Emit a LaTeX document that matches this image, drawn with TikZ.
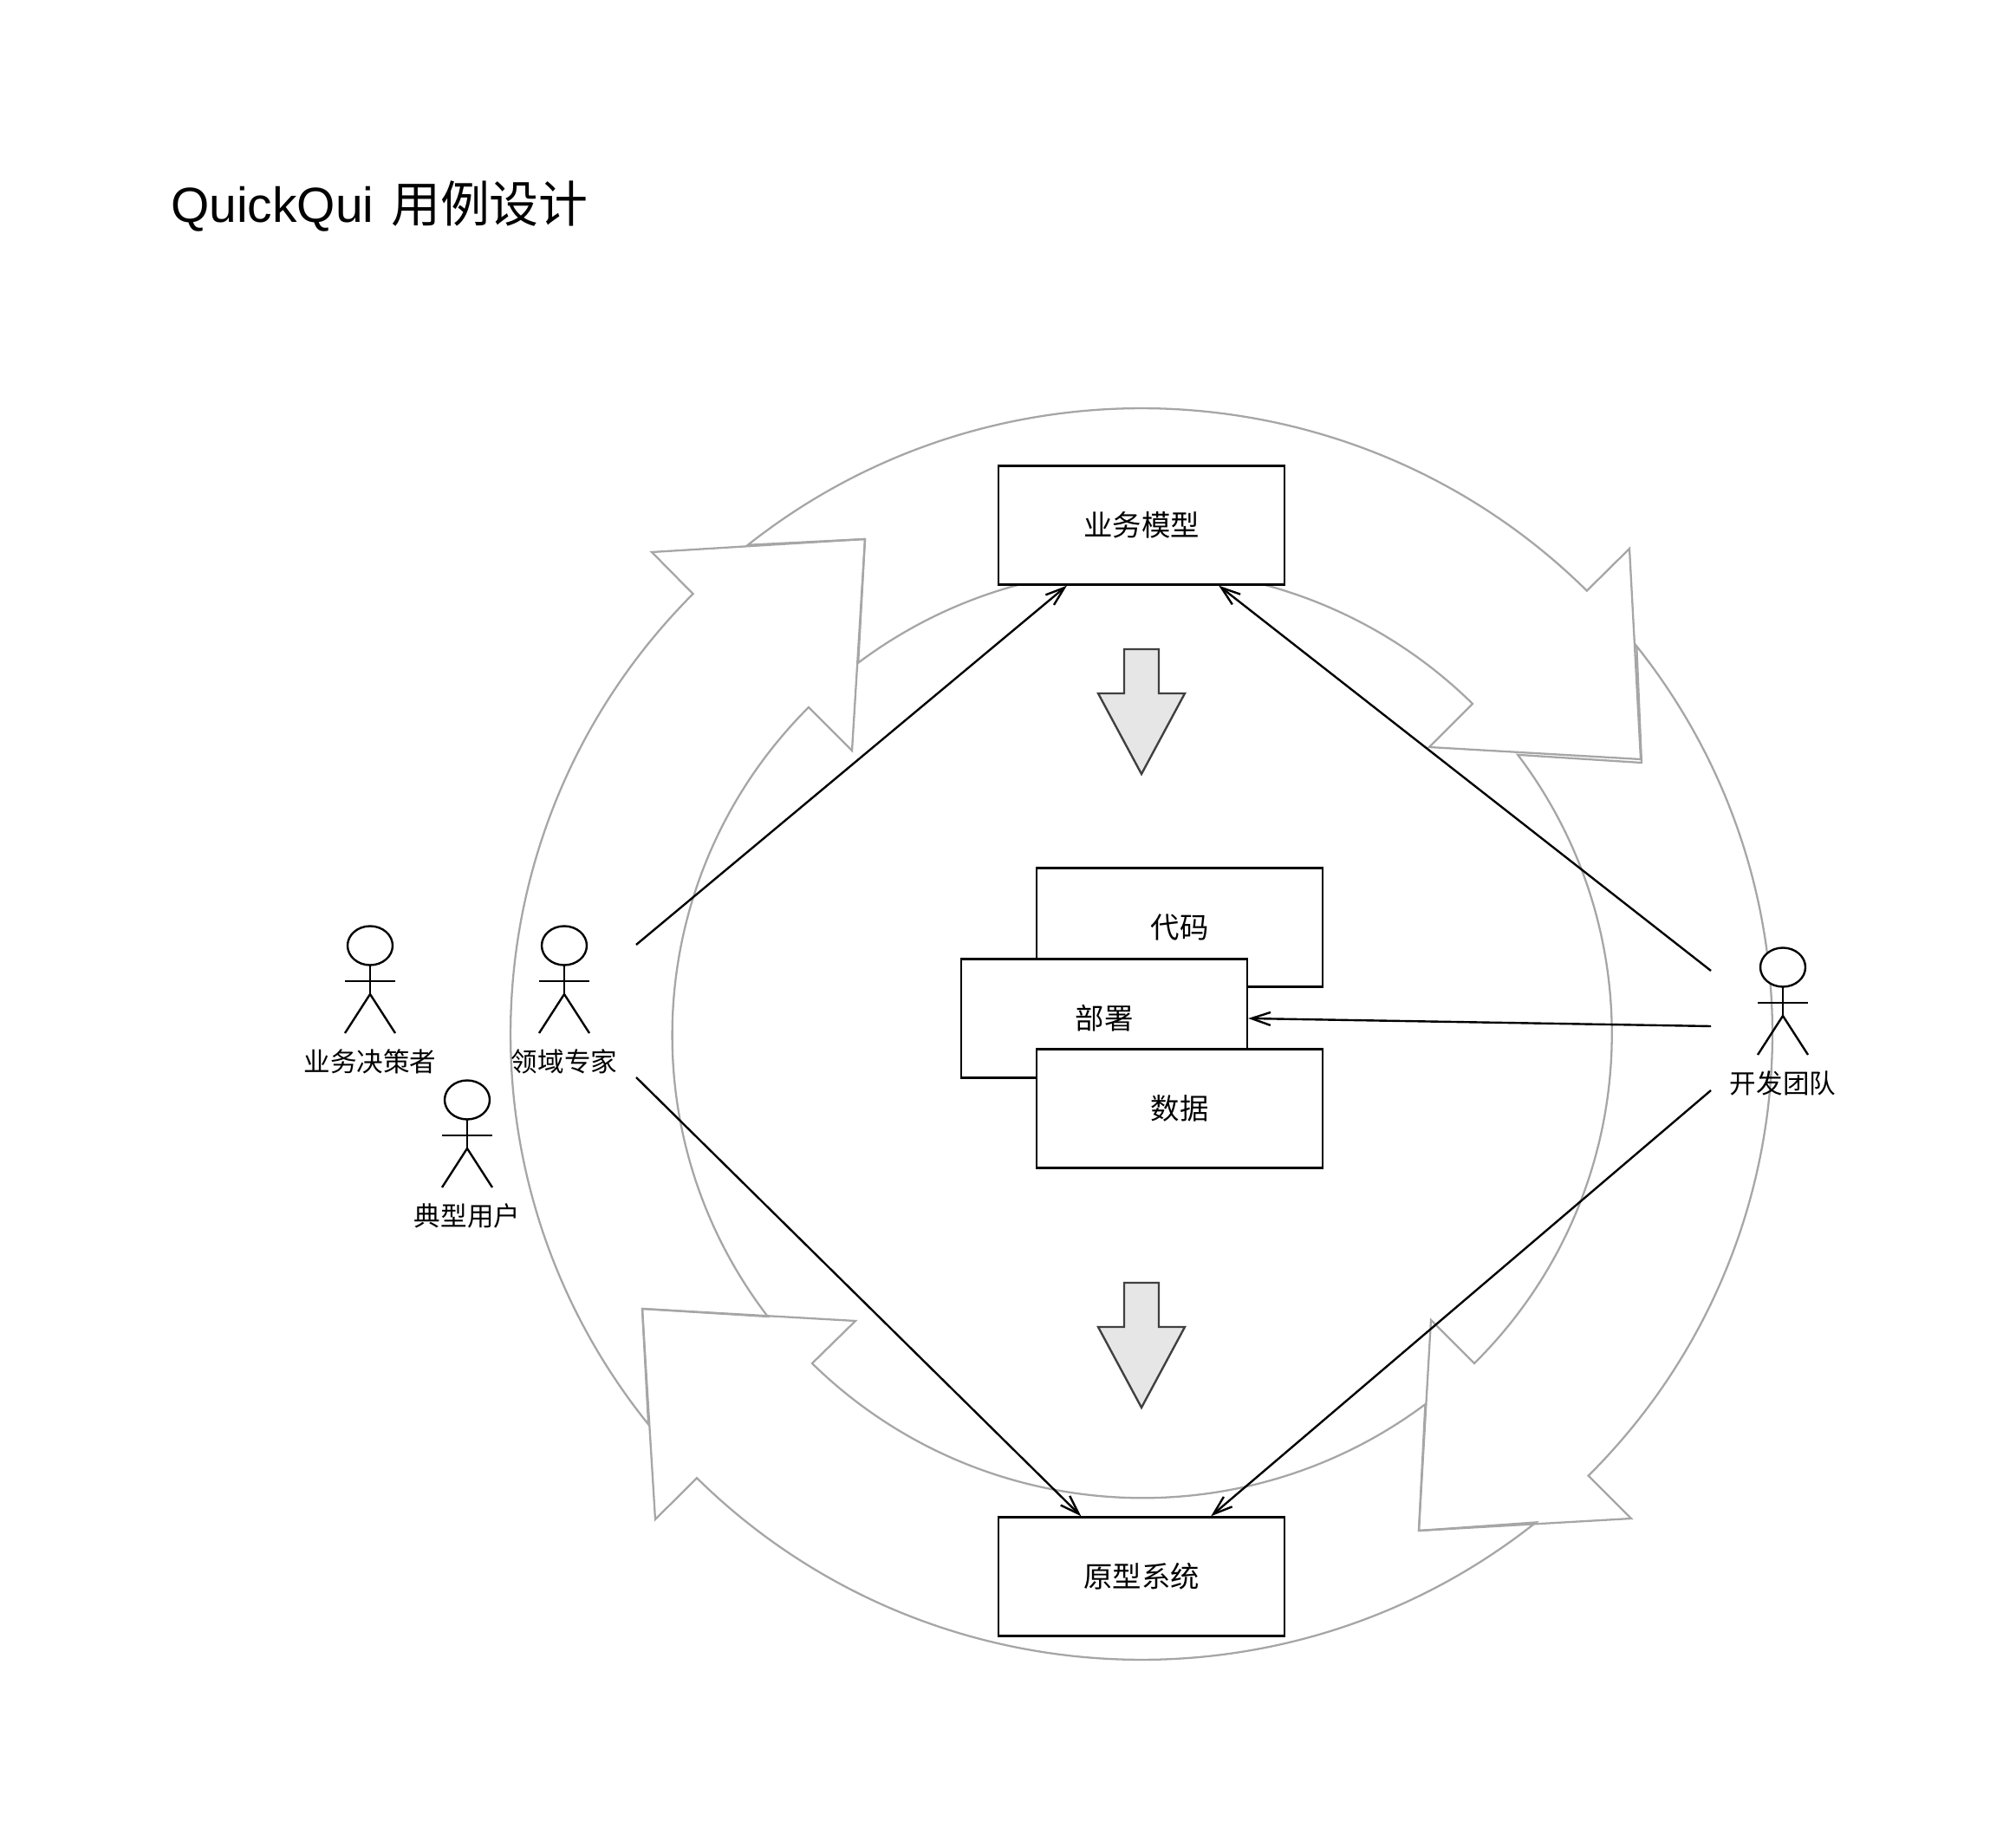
\documentclass[tikz,border=0pt]{standalone}
\usepackage{fontspec}
\setmainfont{Noto Sans CJK SC}
\newfontfamily\latinfont{Liberation Sans}
\usepackage{xcolor}
\usepackage{tikz}
\usetikzlibrary{arrows.meta}
\usetikzlibrary{calc}
\pgfdeclarelayer{edgelayer}
\pgfdeclarelayer{nodelayer}
\pgfsetlayers{edgelayer,nodelayer,main}
\definecolor{ringgray}{HTML}{A6A6A6}
\definecolor{blockgray}{HTML}{E6E6E6}
\definecolor{blockline}{HTML}{404040}
\tikzstyle{none}=[inner sep=0mm]
\tikzstyle{box}=[shape=rectangle,draw=black,fill=white,line width=0.68pt,inner sep=0pt,minimum width=3.3cm,minimum height=1.37cm,text height=7.6pt,text depth=0.4pt,font=\fontsize{9.5pt}{11pt}\selectfont]
\tikzstyle{ring arrow}=[draw=ringgray,line width=0.65pt]
\tikzstyle{block arrow}=[draw=blockline,fill=blockgray,line width=0.68pt]
\tikzstyle{diredge}=[draw=black,line width=0.68pt,-{Straight Barb[length=2.2mm,width=1.5mm]}]
\tikzstyle{title}=[none,font=\fontsize{16.2pt}{19pt}\selectfont]
\tikzstyle{actor label}=[none,text height=7pt,text depth=0.36pt,font=\fontsize{8.7pt}{10pt}\selectfont]
\tikzset{
	actor/.pic={
		\draw [line width=0.68pt,fill=white] (0, 0) ellipse (0.26 and 0.225);
		\draw [line width=0.68pt] (0, -0.225) -- (0, -0.56);
		\draw [line width=0.68pt] (-0.29, -0.41) -- (0.29, -0.41);
		\draw [line width=0.68pt] (-0.29, -1.01) -- (0, -0.56) -- (0.29, -1.01);
		\node [style=actor label] (-label) at (0, -1.34) {#1};
	}
}

\begin{document}
\begin{tikzpicture}
	\useasboundingbox (0, 0) rectangle (23.26, 21);
	\begin{pgfonlayer}{nodelayer}
		\node [style=title, anchor=base west] (heading) at (1.965, 18.43) {{\latinfont QuickQui}\hspace{0.07cm} 用例设计};
		\node [style=box] (model) at (13.17, 14.94) {业务模型};
		\node [style=box] (system) at (13.17, 2.81) {原型系统};
		\node [style=box] (code) at (13.61, 10.30) {代码};
		\node [style=box] (deploy) at (12.74, 9.25) {部署};
		\node [style=box] (data) at (13.61, 8.21) {数据};
		\draw [style=block arrow] (12.97, 13.51) -- (13.37, 13.51) -- (13.37, 13.00) -- (13.67, 13.00) -- (13.17, 12.07) -- (12.67, 13.00) -- (12.97, 13.00) -- cycle;
		\draw [style=block arrow] (12.97, 6.20) -- (13.37, 6.20) -- (13.37, 5.69) -- (13.67, 5.69) -- (13.17, 4.76) -- (12.67, 5.69) -- (12.97, 5.69) -- cycle;
		\pic (decider) at (4.27, 10.09) {actor=业务决策者};
		\pic (expert) at (6.51, 10.09) {actor=领域专家};
		\pic (user) at (5.39, 8.31) {actor=典型用户};
		\pic (team) at (20.57, 9.84) {actor=开发团队};
		\coordinate (ring) at (13.17, 9.07);
		\coordinate (expert top) at (7.34, 10.10);
		\coordinate (expert low) at (7.34, 8.57);
		\coordinate (team top) at (19.74, 9.80);
		\coordinate (team mid) at (19.74, 9.16);
		\coordinate (team low) at (19.74, 8.42);
	\end{pgfonlayer}
	\begin{pgfonlayer}{edgelayer}
		\draw [style=ring arrow] ($(ring)+(128.6:7.28 and 7.22)$) arc [start angle=128.6, end angle=45.1, x radius=7.28, y radius=7.22] -- (18.80, 14.67) -- (18.93, 12.24) -- (16.49, 12.38) -- (16.99, 12.88) arc [start angle=45.2, end angle=127.1, x radius=5.42, y radius=5.37] -- (9.98, 14.78) -- cycle;
		\draw [style=ring arrow] ($(ring)+(38.3:7.28 and 7.22)$) arc [start angle=38.3, end angle=-44.9, x radius=7.28, y radius=7.22] -- (18.82, 3.48) -- (16.37, 3.34) -- (16.51, 5.77) -- (17.01, 5.27) arc [start angle=-45, end angle=36.9, x radius=5.42, y radius=5.37] -- (18.94, 12.20) -- cycle;
		\draw [style=ring arrow] ($(ring)+(-51.3:7.28 and 7.22)$) arc [start angle=-51.3, end angle=-134.8, x radius=7.28, y radius=7.22] -- (7.56, 3.47) -- (7.41, 5.90) -- (9.87, 5.76) -- (9.37, 5.27) arc [start angle=-134.7, end angle=-53, x radius=5.42, y radius=5.37] -- (16.37, 3.34) -- cycle;
		\draw [style=ring arrow] ($(ring)+(218.6:7.28 and 7.22)$) arc [start angle=218.6, end angle=135.3, x radius=7.28, y radius=7.22] -- (7.52, 14.63) -- (9.98, 14.78) -- (9.83, 12.34) -- (9.33, 12.84) arc [start angle=135.2, end angle=217.2, x radius=5.42, y radius=5.37] -- (7.41, 5.90) -- cycle;
		\draw [style=diredge] (expert top) to (model.219.4);
		\draw [style=diredge] (team top) to (model.-38);
		\draw [style=diredge] (team mid) to (deploy.-0.7);
		\draw [style=diredge] (expert low) to (system.135.2);
		\draw [style=diredge] (team low) to (system.41);
	\end{pgfonlayer}
\end{tikzpicture}
\end{document}
